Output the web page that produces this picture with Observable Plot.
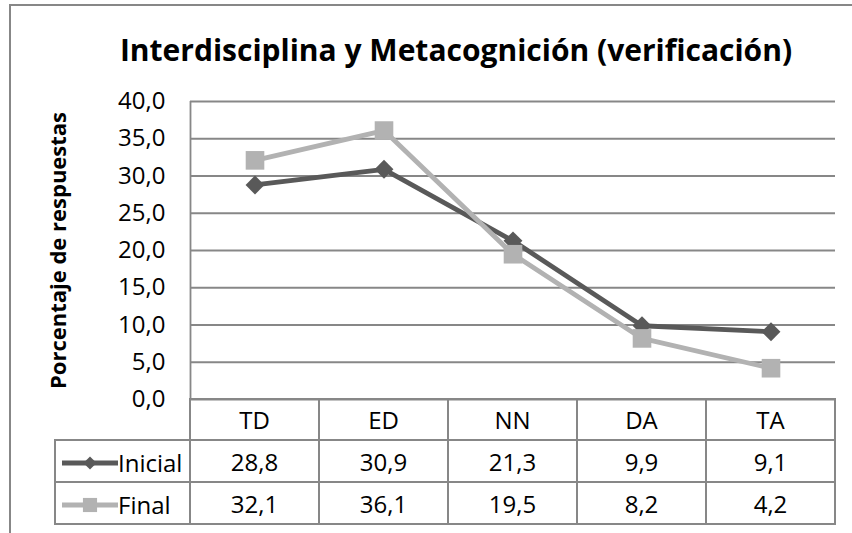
<!DOCTYPE html>
<html>
<head>
<meta charset="utf-8">
<script src="https://cdn.jsdelivr.net/npm/d3@7"></script>
<script src="https://cdn.jsdelivr.net/npm/@observablehq/plot@0.6"></script>
<style>
  html, body { margin: 0; padding: 0; background: #fff; }
  #wrap { position: relative; width: 852px; height: 533px; overflow: hidden; background: #fff; font-family: "Open Sans", sans-serif; color: #000; }
  #frame { position: absolute; left: 9px; top: 4px; width: 920px; height: 620px; border: 2px solid #878787; box-sizing: border-box; }
  #title { position: absolute; left: 60px; width: 792px; top: 35px; text-align: center; font-weight: bold; font-size: 30px; line-height: 30px; white-space: nowrap; }
  #chart { position: absolute; left: 0; top: 80px; }
  #tbl { position: absolute; left: 54px; top: 398px; border-collapse: collapse; table-layout: fixed; font-size: 24px; }
  #tbl td { border: 2px solid #878787; padding: 0; text-align: center; vertical-align: middle; white-space: nowrap; }
  #tbl td.blank { border-top: none; border-left: none; }
  #tbl td.leg { text-align: left; padding-left: 6px; }
  #tbl td.leg svg { vertical-align: middle; }
  #tbl td.leg span { vertical-align: middle; }
</style>
</head>
<body>
<div id="wrap">
  <div id="frame"></div>
  <div id="title"></div>
  <div id="chart"></div>
  <table id="tbl"></table>
</div>
<script>
const title = "Interdisciplina y Metacognición (verificación)";
const yLabel = "Porcentaje de respuestas";
const categories = ["TD", "ED", "NN", "DA", "TA"];
const seriesNames = ["Inicial", "Final"];
const inicial = [28.8, 30.9, 21.3, 9.9, 9.1];
const final = [32.1, 36.1, 19.5, 8.2, 4.2];
const yTicks = [0, 5, 10, 15, 20, 25, 30, 35, 40];
const colors = {Inicial: "#595959", Final: "#b2b2b2"};

const fmt = d3.formatLocale({decimal: ",", thousands: ".", grouping: [3], currency: ["", "€"]}).format(".1f");

const rowsInicial = categories.map((c, i) => ({series: "Inicial", cat: c, i, value: inicial[i]}));
const rowsFinal = categories.map((c, i) => ({series: "Final", cat: c, i, value: final[i]}));

document.getElementById("title").textContent = title;

const chart = Plot.plot({
  width: 852,
  height: 320,
  marginTop: 21,
  marginBottom: 1,
  marginLeft: 190,
  marginRight: 17,
  style: {fontFamily: "'Open Sans', sans-serif", fontSize: "24px", color: "#000", background: "transparent", overflow: "visible"},
  x: {domain: [-0.5, categories.length - 0.5], axis: null},
  y: {domain: [0, 40]},
  marks: [
    Plot.gridY(yTicks, {stroke: "#878787", strokeOpacity: 1, strokeWidth: 1.8}),
    Plot.ruleX([-0.5], {stroke: "#878787", strokeWidth: 1.8}),
    Plot.axisY(yTicks, {tickSize: 0, tickPadding: 25, tickFormat: fmt, label: null, fontSize: 24, fill: "#000"}),
    Plot.line(rowsInicial, {x: "i", y: "value", stroke: colors.Inicial, strokeWidth: 4.8}),
    Plot.dot(rowsInicial, {x: "i", y: "value", symbol: "diamond2", r: 8.5, fill: colors.Inicial}),
    Plot.line(rowsFinal, {x: "i", y: "value", stroke: colors.Final, strokeWidth: 4.8}),
    Plot.dot(rowsFinal, {x: "i", y: "value", symbol: "square", r: 10.5, fill: colors.Final}),
    Plot.text([yLabel], {frameAnchor: "left", textAnchor: "middle", rotate: -90, dx: -132, fontWeight: "bold", fontSize: 22, fill: "#000"})
  ]
});
document.getElementById("chart").appendChild(chart);

// Data table below the chart
const tbl = document.getElementById("tbl");
const colgroup = document.createElement("colgroup");
[135, ...categories.map(() => 129)].forEach(w => {
  const col = document.createElement("col");
  col.style.width = w + "px";
  colgroup.appendChild(col);
});
tbl.appendChild(colgroup);

const head = document.createElement("tr");
head.style.height = "41px";
const blank = document.createElement("td");
blank.className = "blank";
head.appendChild(blank);
categories.forEach(c => {
  const td = document.createElement("td");
  td.textContent = c;
  head.appendChild(td);
});
tbl.appendChild(head);

const swatch = (name) => {
  const ns = "http://www.w3.org/2000/svg";
  const svg = document.createElementNS(ns, "svg");
  svg.setAttribute("width", 56);
  svg.setAttribute("height", 22);
  const line = document.createElementNS(ns, "line");
  line.setAttribute("x1", 0); line.setAttribute("x2", 56);
  line.setAttribute("y1", 11); line.setAttribute("y2", 11);
  line.setAttribute("stroke", colors[name]);
  line.setAttribute("stroke-width", 4.8);
  line.setAttribute("stroke-linecap", "round");
  svg.appendChild(line);
  const m = document.createElementNS(ns, "path");
  const sym = name === "Inicial" ? d3.symbol(d3.symbolDiamond2, 110) : d3.symbol(d3.symbolSquare, 200);
  m.setAttribute("d", sym());
  m.setAttribute("transform", "translate(28,11)");
  m.setAttribute("fill", colors[name]);
  svg.appendChild(m);
  return svg;
};

[["Inicial", inicial], ["Final", final]].forEach(([name, vals]) => {
  const tr = document.createElement("tr");
  tr.style.height = "42px";
  const lg = document.createElement("td");
  lg.className = "leg";
  lg.appendChild(swatch(name));
  const sp = document.createElement("span");
  sp.textContent = name;
  lg.appendChild(sp);
  tr.appendChild(lg);
  vals.forEach(v => {
    const td = document.createElement("td");
    td.textContent = fmt(v);
    tr.appendChild(td);
  });
  tbl.appendChild(tr);
});
</script>
</body>
</html>
